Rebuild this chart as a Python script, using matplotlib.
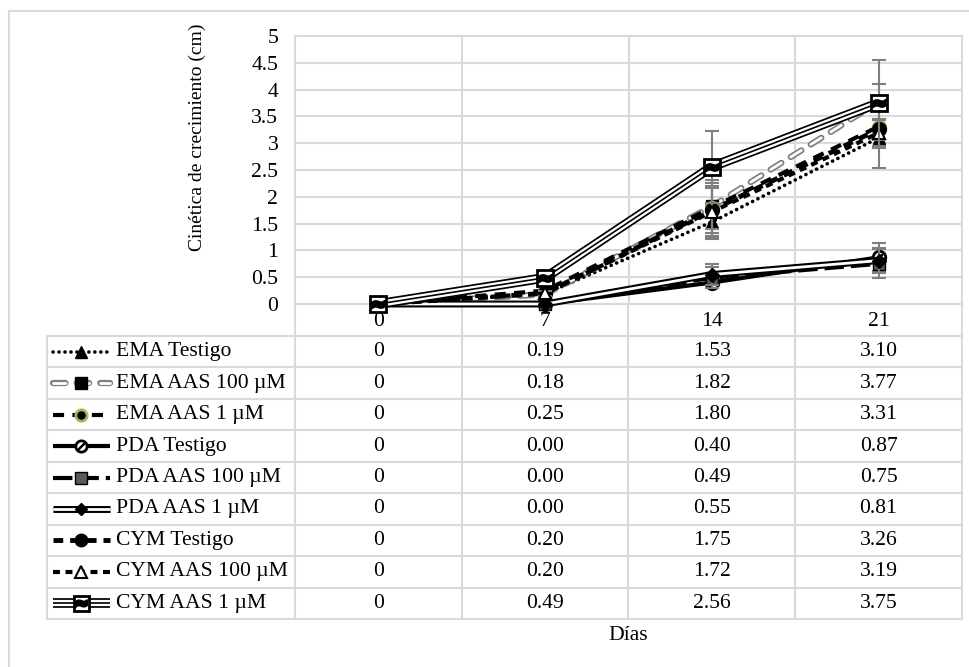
import matplotlib
matplotlib.use("Agg")
from matplotlib import pyplot as plt

plt.rcParams['font.family'] = ['Liberation Serif', 'DejaVu Serif']
plt.rcParams['lines.scale_dashes'] = False

# datos
dias = [0, 7, 14, 21]
nombres = ["EMA Testigo", "EMA AAS 100 µM", "EMA AAS 1 µM",
           "PDA Testigo", "PDA AAS 100 µM", "PDA AAS 1 µM",
           "CYM Testigo", "CYM AAS 100 µM", "CYM AAS 1 µM"]
ema_testigo = [0, 0.19, 1.53, 3.10]
ema_aas100 = [0, 0.18, 1.82, 3.77]
ema_aas1 = [0, 0.25, 1.80, 3.31]
pda_testigo = [0, 0.00, 0.40, 0.87]
pda_aas100 = [0, 0.00, 0.49, 0.75]
pda_aas1 = [0, 0.00, 0.55, 0.81]
cym_testigo = [0, 0.20, 1.75, 3.26]
cym_aas100 = [0, 0.20, 1.72, 3.19]
cym_aas1 = [0, 0.49, 2.56, 3.75]

# desviaciones (estimadas de las barras de error)
err_ema_testigo = [0, 0.05, 0.31, 0.57]
err_ema_aas100 = [0, 0.05, 0.50, 0.34]
err_ema_aas1 = [0, 0.05, 0.40, 0.40]
err_pda_testigo = [0, 0.02, 0.10, 0.26]
err_pda_aas100 = [0, 0.02, 0.20, 0.27]
err_pda_aas1 = [0, 0.02, 0.19, 0.23]
err_cym_testigo = [0, 0.05, 0.50, 0.20]
err_cym_aas100 = [0, 0.05, 0.45, 0.25]
err_cym_aas1 = [0, 0.08, 0.67, 0.80]

valores = [ema_testigo, ema_aas100, ema_aas1, pda_testigo, pda_aas100,
           pda_aas1, cym_testigo, cym_aas100, cym_aas1]
errores = [err_ema_testigo, err_ema_aas100, err_ema_aas1, err_pda_testigo,
           err_pda_aas100, err_pda_aas1, err_cym_testigo, err_cym_aas100,
           err_cym_aas1]

# estilos de cada serie
estilos = [
  dict(capas=[('black', 2.6)], ls=(0, (0.1, 4.2)), cap='round', marker='^', mfc='black', mec='black', ms=9),
  dict(capas=[('#7f7f7f', 4.5), ('white', 2.0)], ls=(0, (9, 8)), cap='round', marker='s', mfc='black', mec='black', ms=9),
  dict(capas=[('black', 3)], ls=(0, (8, 6)), marker='o', mfc='black', mec='#9bbb59', ms=9, mew=2),
  dict(capas=[('black', 3)], ls='-', marker='o', mfc='white', mec='black', ms=9, mew=2, extra=(2, 2, 315)),
  dict(capas=[('black', 3)], ls=(0, (14, 5)), marker='s', mfc='#595959', mec='black', ms=9),
  dict(capas=[('black', 5), ('white', 2)], ls='-', marker='D', mfc='black', mec='black', ms=7),
  dict(capas=[('black', 3.5)], ls=(0, (7, 5)), marker='o', mfc='black', mec='black', ms=10),
  dict(capas=[('black', 3)], ls=(0, (5, 4)), marker='^', mfc='white', mec='black', ms=9, mew=1.5),
  dict(capas=[('black', 7), ('white', 4.5), ('black', 1.2)], ls='-', marker='s', mfc='white', mec='black', ms=12, mew=2, extra=r'$\approx$'),
]

W, H = 970, 667
fs = 15.6
gris = '#d9d9d9'
# marco del grafico (px)
x0, x1, y_top, y_cero = 295, 962, 36, 304
tabla_top, fila_h = 336, 31.45
leg_left = 47


def dibujar(axes, x, y, st, z, cada=None, escala=1.0):
  for i, (c, lw) in enumerate(st['capas']):
    axes.plot(x, y, color=c, lw=lw, linestyle=st['ls'],
              dash_capstyle=st.get('cap', 'butt'), solid_capstyle='butt',
              zorder=z + i * 0.01, clip_on=False)
  axes.plot(x, y, ls='none', marker=st['marker'], mfc=st['mfc'], mec=st['mec'],
            ms=st['ms'] * escala, mew=st.get('mew', 1), markevery=cada,
            zorder=z + 0.05, clip_on=False)
  if 'extra' in st:
    axes.plot(x, y, ls='none', marker=st['extra'], color='black',
              ms=st['ms'] * 0.75 * escala, mew=1.5, markevery=cada,
              zorder=z + 0.06, clip_on=False)


fig = plt.figure(figsize=(W / 100, H / 100), dpi=100)

# capa de fondo en pixeles para la tabla
bg = fig.add_axes([0, 0, 1, 1])
bg.set_xlim(0, W)
bg.set_ylim(H, 0)
bg.axis('off')

# borde exterior
bg.plot([9, 9], [11, H], color=gris, lw=1.5)
bg.plot([9, W], [11, 11], color=gris, lw=1.5)

n = len(dias)
col_w = (x1 - x0) / n
tabla_bot = tabla_top + fila_h * len(nombres)
for k in range(n + 1):
  xx = x0 + k * col_w
  bg.plot([xx, xx], [y_cero, tabla_bot], color=gris, lw=1.5)
bg.plot([leg_left, leg_left], [tabla_top, tabla_bot], color=gris, lw=1.5)
for r in range(len(nombres) + 1):
  yy = tabla_top + r * fila_h
  bg.plot([leg_left, x1], [yy, yy], color=gris, lw=1.5)

for r, (nom, vals, st) in enumerate(zip(nombres, valores, estilos)):
  yc = tabla_top + (r + 0.5) * fila_h
  dibujar(bg, [53, 81, 110], [yc, yc, yc], st, 3, cada=[1], escala=0.9)
  bg.text(116, yc, nom, fontsize=fs, ha='left', va='center')
  for k, v in enumerate(vals):
    txt = '0' if k == 0 else f'{v:.2f}'
    bg.text(x0 + (k + 0.5) * col_w, yc, txt, fontsize=fs, ha='center', va='center')

# grafico principal
ax = fig.add_axes([x0 / W, 1 - y_cero / H, (x1 - x0) / W, (y_cero - y_top) / H])
ax.set_facecolor('none')
ax.set_xlim(-0.5, n - 0.5)
ax.set_ylim(0, 5)
ax.set_yticks([i * 0.5 for i in range(11)])
ax.set_yticklabels(['0', '0.5', '1', '1.5', '2', '2.5', '3', '3.5', '4', '4.5', '5'])
ax.set_xticks(range(n))
ax.set_xticklabels([str(d) for d in dias])
ax.set_xticks([k + 0.5 for k in range(n - 1)], minor=True)
ax.tick_params(axis='both', which='both', length=0, labelsize=fs)
ax.tick_params(axis='y', pad=12)
ax.tick_params(axis='x', pad=6)
ax.grid(axis='y', which='major', color=gris, lw=1.5)
ax.grid(axis='x', which='minor', color=gris, lw=1.5)
for s in ax.spines.values():
  s.set_color(gris)
  s.set_linewidth(1.5)
ax.set_axisbelow(True)

xs = list(range(n))
for i, (vals, errs, st) in enumerate(zip(valores, errores, estilos)):
  ax.errorbar(xs, vals, yerr=errs, fmt='none', ecolor='#7f7f7f', elinewidth=1.5,
              capsize=5, capthick=1.5, zorder=2 + i * 0.1)
  dibujar(ax, xs, vals, st, 2.05 + i * 0.1)

fig.text(197 / W, 1 - 137 / H, 'Cinética de crecimiento (cm)', rotation=90,
         ha='center', va='center', fontsize=14)
fig.text((x0 + x1) / 2 / W, 1 - 636 / H, 'Días', ha='center', va='center', fontsize=fs)

fig.savefig('out.png', dpi=100)
